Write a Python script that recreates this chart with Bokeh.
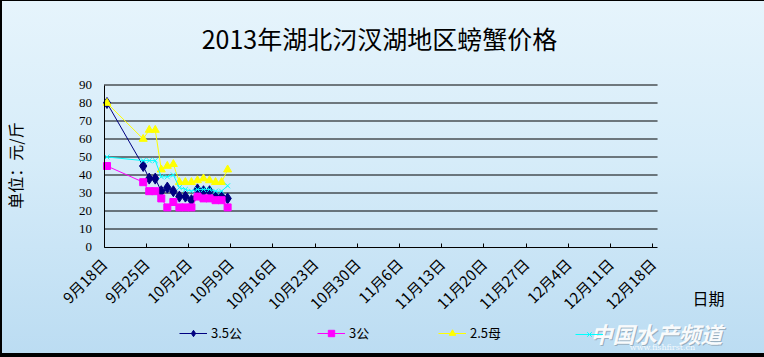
import pandas as pd
from bokeh.plotting import figure
from bokeh.models import Range1d, FixedTicker, Legend, LegendItem, Label
from bokeh.core.properties import value
from bokeh.embed import file_html
from bokeh.resources import INLINE
import math

# ---- data ----
dates = ["2013-09-18", "2013-09-24", "2013-09-25", "2013-09-26", "2013-09-27",
         "2013-09-28", "2013-09-29", "2013-09-30", "2013-10-01", "2013-10-02",
         "2013-10-03", "2013-10-04", "2013-10-05", "2013-10-06", "2013-10-07",
         "2013-10-08"]
price_35_male = [80, 45, 38, 38, 31, 33, 31, 28, 28, 26, 32, 31, 31, 28, 28, 27]
price_3_male = [45, 36, 31, 31, 27, 22, 25, 22, 22, 22, 28, 27, 27, 26, 26, 22]
price_25_female = [80, 60, 65, 65, 43, 45, 46, 36, 36, 36, 37, 38, 37, 36, 36, 43]
price_4th = [50, 48, 48, 48, 39, 39, 40, 33, 32, 31, 32, 32, 32, 31, 31, 34]
series_names = ["3.5公", "3公", "2.5母", " "]
tick_labels = ["9月18日", "9月25日", "10月2日", "10月9日", "10月16日", "10月23日",
               "10月30日", "11月6日", "11月13日", "11月20日", "11月27日",
               "12月4日", "12月11日", "12月18日"]
y_ticks = [0, 10, 20, 30, 40, 50, 60, 70, 80, 90]
title_text = "2013年湖北汈汊湖地区螃蟹价格"
y_label = "单位：元/斤"
x_label = "日期"
watermark = "中国水产频道"
watermark_url = "www.fishfirst.cn"

start = pd.Timestamp(dates[0])
xs = [(pd.Timestamp(d) - start).days + 0.5 for d in dates]
tick_days = [i * 7 for i in range(len(tick_labels))]
X_END = 91.8          # end of the date axis (days after first date)
Y_END = y_ticks[-1]

# ---- layout geometry (pixels) ----
W, H = 764, 357
PX_DAY = 6.03          # pixels per day
PX_UNIT = 1.8          # pixels per price unit
AX_LEFT = 103.5        # pixel x of day 0
AX_BOTTOM = 246.5      # pixel y (from top) of price 0
x0 = -AX_LEFT / PX_DAY
y0 = -(H - AX_BOTTOM) / PX_UNIT

CJK = "Noto Sans CJK SC"

p = figure(width=W, height=H, output_backend="svg", toolbar_location=None,
           x_range=Range1d(x0, x0 + W / PX_DAY), y_range=Range1d(y0, y0 + H / PX_UNIT),
           min_border=0, min_border_left=0, min_border_right=0,
           min_border_top=0, min_border_bottom=0)
p.title.visible = False
p.border_fill_alpha = 0
p.background_fill_alpha = 0
p.outline_line_color = None
p.styles = {
    "background": "linear-gradient(to bottom, #E6F4FC 0%, #D6ECF9 45%, #BBDCF2 100%)",
    "box-shadow": "inset 2px 1px 0 #000000, inset 0 -4px 0 #000000",
}

# grid: horizontal lines limited to the date axis span
p.xgrid.visible = False
p.ygrid.visible = False
p.segment(x0=[0] * (len(y_ticks) - 1), x1=[X_END] * (len(y_ticks) - 1),
          y0=y_ticks[1:], y1=y_ticks[1:], line_color="black", line_width=1)

# y axis
p.yaxis.fixed_location = 0
p.yaxis.bounds = (0, Y_END)
p.yaxis.ticker = FixedTicker(ticks=y_ticks)
p.yaxis.axis_line_color = "black"
p.yaxis.major_tick_out = 0
p.yaxis.major_tick_in = 0
p.yaxis.minor_tick_line_color = None
p.yaxis.major_label_standoff = 12
p.yaxis.major_label_text_font = "Liberation Serif"
p.yaxis.major_label_text_font_size = "13px"
p.yaxis.major_label_text_color = "black"

# x axis
p.xaxis.fixed_location = 0
p.xaxis.bounds = (0, X_END)
p.xaxis.ticker = FixedTicker(ticks=tick_days)
p.xaxis.major_label_overrides = {d: l for d, l in zip(tick_days, tick_labels)}
p.xaxis.major_label_orientation = math.pi / 4
p.xaxis.axis_line_color = "black"
p.xaxis.major_tick_in = 4
p.xaxis.major_tick_out = 0
p.xaxis.major_tick_line_color = "black"
p.xaxis.minor_tick_line_color = None
p.xaxis.major_label_standoff = 14
p.xaxis.major_label_text_font = CJK
p.xaxis.major_label_text_font_size = "15px"
p.xaxis.major_label_text_color = "black"

# series
styles = [
    (price_35_male, "#000080", "diamond", 11),
    (price_3_male, "#FF00FF", "square", 7),
    (price_25_female, "#FFFF00", "triangle", 8),
    (price_4th, "#00FFFF", "x", 7),
]
legend_left = [179, 317, 438, 575]
for (vals, col, mk, sz), name, lx in zip(styles, series_names, legend_left):
    ln = p.line(xs, vals, line_color=col, line_width=1)
    sc = p.scatter(xs, vals, marker=mk, size=sz, fill_color=col, line_color=col)
    lg = Legend(items=[LegendItem(label=value(name), renderers=[ln, sc])],
                location=(lx, 15), orientation="horizontal",
                glyph_width=28, glyph_height=16, label_height=16,
                label_standoff=4, padding=0, margin=0, spacing=0,
                border_line_color=None, background_fill_alpha=0,
                label_text_font=CJK, label_text_font_size="13px",
                label_text_color="black")
    p.add_layout(lg, "center")


def add_text(text, cx, cy_top, size, font=CJK, style="normal", color="black",
             alpha=1.0, angle=0.0):
    p.add_layout(Label(x=cx, y=H - cy_top, x_units="screen", y_units="screen",
                       text=text, angle=angle, text_align="center",
                       text_baseline="middle", text_font=font, text_font_size=size,
                       text_font_style=style, text_color=color, text_alpha=alpha))


add_text(title_text, 379, 37, "25px")
add_text(y_label, 14, 165, "16px", angle=math.pi / 2)
add_text(x_label, 708, 297, "16px")
# watermark (overlay in the reference)
add_text(watermark, 657, 333, "22px", style="bold italic", color="#7f8f9c", alpha=0.6)
add_text(watermark, 656, 332, "22px", style="bold italic", color="white", alpha=0.95)
add_text(watermark_url, 662, 347, "8px", font="DejaVu Serif", color="white", alpha=0.85)

open("out.html", "w").write(file_html(p, INLINE))
